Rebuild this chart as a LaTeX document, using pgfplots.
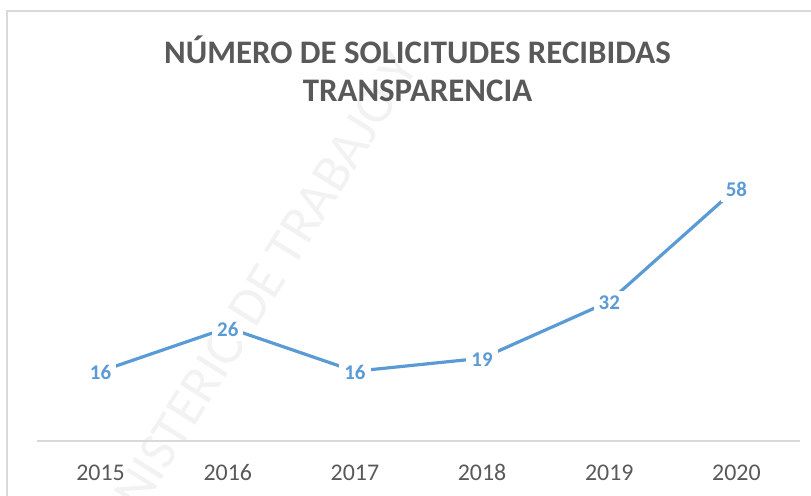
\documentclass[border=0pt]{standalone}
\usepackage{pgfplots}
\pgfplotsset{compat=1.18}
\usepackage{fontspec}
\setmainfont{Carlito}
\definecolor{lineblue}{HTML}{5B9BD5}
\definecolor{txtgray}{HTML}{595959}
\definecolor{axgray}{HTML}{D9D9D9}
\begin{document}
\begin{tikzpicture}[x=1bp,y=1bp]
\useasboundingbox (0,0) rectangle (811,496);
% watermark
\node[rotate=58, text=black!5, font=\fontsize{54}{54}\selectfont] at (250,190) {MINISTERIO DE TRABAJO Y};
% chart border
\draw[axgray, line width=1.5bp] (7,-5) -- (7,485) -- (820,485);
% title
\node[align=center, text=txtgray, font=\fontsize{33}{38}\selectfont\bfseries] at (417.5,427) {NÚMERO DE SOLICITUDES RECIBIDAS\\TRANSPARENCIA};
\begin{axis}[
  at={(37bp,55bp)}, anchor=south west,
  scale only axis, width=763bp, height=305bp,
  xmin=-0.5, xmax=5.5, ymin=0, ymax=70,
  axis x line*=bottom, axis y line=none,
  x axis line style={axgray, line width=1.5bp, -},
  xtick={0,1,2,3,4,5},
  xticklabels={2015,2016,2017,2018,2019,2020},
  major tick length=0pt,
  xticklabel style={text=txtgray, font=\fontsize{24}{24}\selectfont, yshift=-20bp},
  /pgf/number format/assume math mode=true,
  clip=false,
]
\addplot[lineblue, line width=3.2bp,
  nodes near coords,
  nodes near coords align={center},
  every node near coord/.append style={fill=white, text=lineblue, inner sep=5bp, font=\fontsize{21}{21}\selectfont\bfseries, anchor=center, yshift=-1.5bp},
] coordinates {(0,16) (1,26) (2,16) (3,19) (4,32) (5,58)};
\end{axis}
\end{tikzpicture}
\end{document}
